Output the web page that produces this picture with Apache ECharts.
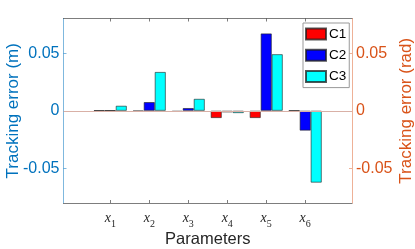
<!DOCTYPE html>
<html><head><meta charset="utf-8">
<script src="https://cdn.jsdelivr.net/npm/echarts@6/dist/echarts.min.js"></script>
<style>html,body{margin:0;padding:0;background:#fff}#c{width:415px;height:249px}</style>
</head><body><div id="c"></div>
<script>
var categories = ['1', '2', '3', '4', '5', '6'];
var positions = [1, 2, 3, 4, 5, 6];
var seriesNames = ['C1', 'C2', 'C3'];
var c1 = [0.0003, -0.0005, -0.001, -0.0063, -0.0063, 0.0002];
var c2 = [0.0004, 0.0075, 0.0023, -0.0014, 0.067, -0.0172];
var c3 = [0.0043, 0.0336, 0.0103, -0.002, 0.049, -0.0623];
var yTicks = [-0.05, 0, 0.05];
var colors = ['#ff0000', '#0000ff', '#00ffff'];

function pairs(arr) { return positions.map(function (p, i) { return [p, arr[i]]; }); }
var allData = [c1, c2, c3];

var font = 'Liberation Sans';
var chart = echarts.init(document.getElementById('c'), null, {renderer: 'canvas'});
var series = allData.map(function (d, k) {
  var s = {
    name: seriesNames[k], type: 'bar', xAxisIndex: 0, yAxisIndex: 0,
    data: pairs(d), barWidth: 11, barGap: '0%',
    itemStyle: {color: colors[k], borderColor: 'rgba(30,30,30,0.75)', borderWidth: 0.8},
    emphasis: {disabled: true}, animation: false
  };
  if (k === 0) {
    s.markLine = {silent: true, symbol: 'none', label: {show: false},
      lineStyle: {color: '#d9b0a6', width: 1, type: 'solid'},
      data: [{yAxis: 0}], animation: false};
  }
  return s;
});

var xBase = {type: 'value', min: -0.2, max: 7.2, splitLine: {show: false}};
chart.setOption({
  animation: false,
  grid: {left: 63.5, right: 63, top: 18.5, bottom: 46, containLabel: false, outerBoundsMode: 'none'},
  legend: {
    orient: 'vertical', left: 303, top: 23, itemWidth: 20, itemHeight: 11, itemGap: 7.3,
    padding: [4, 3, 4, 2], borderColor: '#999', borderWidth: 1, backgroundColor: '#fff',
    textStyle: {fontFamily: font, fontSize: 13.5, color: '#000', padding: [0, 0, 0, -2]},
    icon: 'rect', selectedMode: false
  },
  xAxis: [
    Object.assign({}, xBase, {
      position: 'bottom',
      name: 'Parameters', nameLocation: 'middle', nameGap: 28, nameMoveOverlap: false,
      nameTextStyle: {fontFamily: font, fontSize: 16.5, color: '#262626'},
      axisLine: {show: true, onZero: false, lineStyle: {color: 'rgba(38,38,38,0.6)', width: 1}},
      axisTick: {show: true, inside: true, length: 3, customValues: positions,
        lineStyle: {color: 'rgba(38,38,38,0.6)'}},
      axisLabel: {show: true, customValues: positions, margin: 8,
        formatter: function (v) { var i = positions.indexOf(v); return '{x|x}{s|' + categories[i] + '}'; },
        rich: {
          x: {fontFamily: 'Liberation Serif', fontStyle: 'italic', fontSize: 14, color: '#262626', lineHeight: 16, verticalAlign: 'top'},
          s: {fontFamily: 'Liberation Serif', fontSize: 10, color: '#262626', lineHeight: 18, verticalAlign: 'bottom'}
        }}
    }),
    Object.assign({}, xBase, {
      position: 'top',
      axisLine: {show: true, onZero: false, lineStyle: {color: 'rgba(38,38,38,0.6)', width: 1}},
      axisTick: {show: true, inside: true, length: 3, customValues: positions,
        lineStyle: {color: 'rgba(38,38,38,0.6)'}},
      axisLabel: {show: false}
    })
  ],
  yAxis: [
    {type: 'value', position: 'left', min: -0.08, max: 0.08,
      name: 'Tracking error (m)', nameLocation: 'middle', nameGap: 42, nameRotate: 90, nameMoveOverlap: false,
      nameTextStyle: {fontFamily: font, fontSize: 17, color: '#0072BD'},
      splitLine: {show: false},
      axisLine: {show: true, onZero: false, lineStyle: {color: 'rgba(0,114,189,0.5)'}},
      axisTick: {show: true, inside: true, length: 3, customValues: yTicks, lineStyle: {color: 'rgba(0,114,189,0.5)'}},
      axisLabel: {customValues: yTicks, fontFamily: font, fontSize: 16, color: '#0072BD', margin: 4}
    },
    {type: 'value', position: 'right', min: -0.08, max: 0.08,
      name: 'Tracking error (rad)', nameLocation: 'middle', nameGap: 46, nameRotate: 90, nameMoveOverlap: false,
      nameTextStyle: {fontFamily: font, fontSize: 17, color: '#D95319'},
      splitLine: {show: false},
      axisLine: {show: true, onZero: false, lineStyle: {color: 'rgba(217,83,25,0.45)'}},
      axisTick: {show: true, inside: true, length: 3, customValues: yTicks, lineStyle: {color: 'rgba(217,83,25,0.45)'}},
      axisLabel: {customValues: yTicks, fontFamily: font, fontSize: 16, color: '#D95319', margin: 4}
    }
  ],
  series: series
});
</script></body></html>
